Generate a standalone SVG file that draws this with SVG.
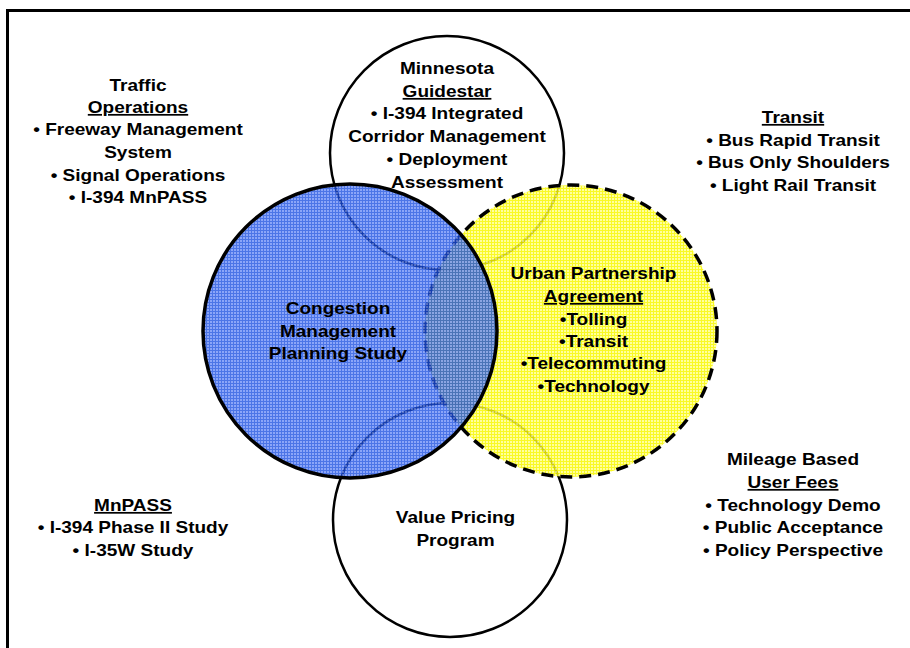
<svg xmlns="http://www.w3.org/2000/svg" width="910" height="648" viewBox="0 0 910 648">
  <style>
    .lbl { font-family: "Liberation Sans", Arial, sans-serif; font-weight: bold; font-size: 17.3px; fill: #000; text-anchor: middle; }
    .u { text-decoration: underline; }
    .plain { fill: none; stroke: #000; stroke-width: 2.5; }
  </style>
  <defs>
    <!-- fine dithered screen used by the coloured circles -->
    <pattern id="bluePat" width="3" height="3" patternUnits="userSpaceOnUse">
      <rect width="3" height="3" fill="#1a4ee0"/>
      <rect width="2" height="2" fill="#6a8cf6"/>
    </pattern>
    <pattern id="yellowPat" width="3" height="3" patternUnits="userSpaceOnUse">
      <rect width="3" height="3" fill="#f8f800"/>
      <rect width="2" height="2" fill="#ffff8c"/>
    </pattern>
  </defs>

  <rect width="910" height="648" fill="#fff"/>
  <!-- frame: only the top and left edges fall inside the page -->
  <path d="M7.5,648 V10.5 H910" fill="none" stroke="#000" stroke-width="3"/>

  <!-- outline-only circles underneath -->
  <g id="guidestar-circle">
    <circle cx="447" cy="153" r="117" fill="#fff" stroke="#000" stroke-width="2.5"/>
  </g>
  <g id="value-pricing-circle">
    <circle cx="450" cy="520" r="117" fill="#fff" stroke="#000" stroke-width="2.5"/>
  </g>

  <!-- Urban Partnership Agreement -->
  <g id="upa-circle">
    <circle cx="571" cy="331" r="146" fill="url(#yellowPat)" opacity="0.85"/>
    <circle cx="571" cy="331" r="146" fill="none" stroke="#000" stroke-width="3.5" stroke-dasharray="12 7"/>
  </g>

  <!-- Congestion Management Planning Study -->
  <g id="cmps-circle">
    <circle cx="350" cy="331" r="147" fill="url(#bluePat)" opacity="0.78"/>
    <circle cx="350" cy="331" r="147" fill="none" stroke="#000" stroke-width="3.5"/>
  </g>

  <!-- labels -->
  <g id="traffic-operations" transform="translate(138,0) scale(1.1,1)">
    <text class="lbl" x="0" y="91">Traffic</text>
    <text class="lbl u" x="0" y="113">Operations</text>
    <text class="lbl" x="0" y="135.5">• Freeway Management</text>
    <text class="lbl" x="0" y="158">System</text>
    <text class="lbl" x="0" y="181">• Signal Operations</text>
    <text class="lbl" x="0" y="203">• I-394 MnPASS</text>
  </g>

  <g id="guidestar" transform="translate(447,0) scale(1.1,1)">
    <text class="lbl" x="0" y="74">Minnesota</text>
    <text class="lbl u" x="0" y="97">Guidestar</text>
    <text class="lbl" x="0" y="119.5">• I-394 Integrated</text>
    <text class="lbl" x="0" y="142">Corridor Management</text>
    <text class="lbl" x="0" y="165">• Deployment</text>
    <text class="lbl" x="0" y="188">Assessment</text>
  </g>

  <g id="transit" transform="translate(793,0) scale(1.1,1)">
    <text class="lbl u" x="0" y="123">Transit</text>
    <text class="lbl" x="0" y="146">• Bus Rapid Transit</text>
    <text class="lbl" x="0" y="168.5">• Bus Only Shoulders</text>
    <text class="lbl" x="0" y="191">• Light Rail Transit</text>
  </g>

  <g id="cmps" transform="translate(338,0) scale(1.1,1)">
    <text class="lbl" x="0" y="314">Congestion</text>
    <text class="lbl" x="0" y="337">Management</text>
    <text class="lbl" x="0" y="359">Planning Study</text>
  </g>

  <g id="upa" transform="translate(593.5,0) scale(1.1,1)">
    <text class="lbl" x="0" y="279">Urban Partnership</text>
    <text class="lbl u" x="0" y="302">Agreement</text>
    <text class="lbl" x="0" y="325">•Tolling</text>
    <text class="lbl" x="0" y="347">•Transit</text>
    <text class="lbl" x="0" y="369">•Telecommuting</text>
    <text class="lbl" x="0" y="392">•Technology</text>
  </g>

  <g id="value-pricing" transform="translate(455.5,0) scale(1.1,1)">
    <text class="lbl" x="0" y="523">Value Pricing</text>
    <text class="lbl" x="0" y="546">Program</text>
  </g>

  <g id="mnpass" transform="translate(133,0) scale(1.1,1)">
    <text class="lbl u" x="0" y="511">MnPASS</text>
    <text class="lbl" x="0" y="533">• I-394 Phase II Study</text>
    <text class="lbl" x="0" y="556">• I-35W Study</text>
  </g>

  <g id="mileage-fees" transform="translate(793,0) scale(1.1,1)">
    <text class="lbl" x="0" y="465">Mileage Based</text>
    <text class="lbl u" x="0" y="488">User Fees</text>
    <text class="lbl" x="0" y="511">• Technology Demo</text>
    <text class="lbl" x="0" y="533">• Public Acceptance</text>
    <text class="lbl" x="0" y="556">• Policy Perspective</text>
  </g>
</svg>
